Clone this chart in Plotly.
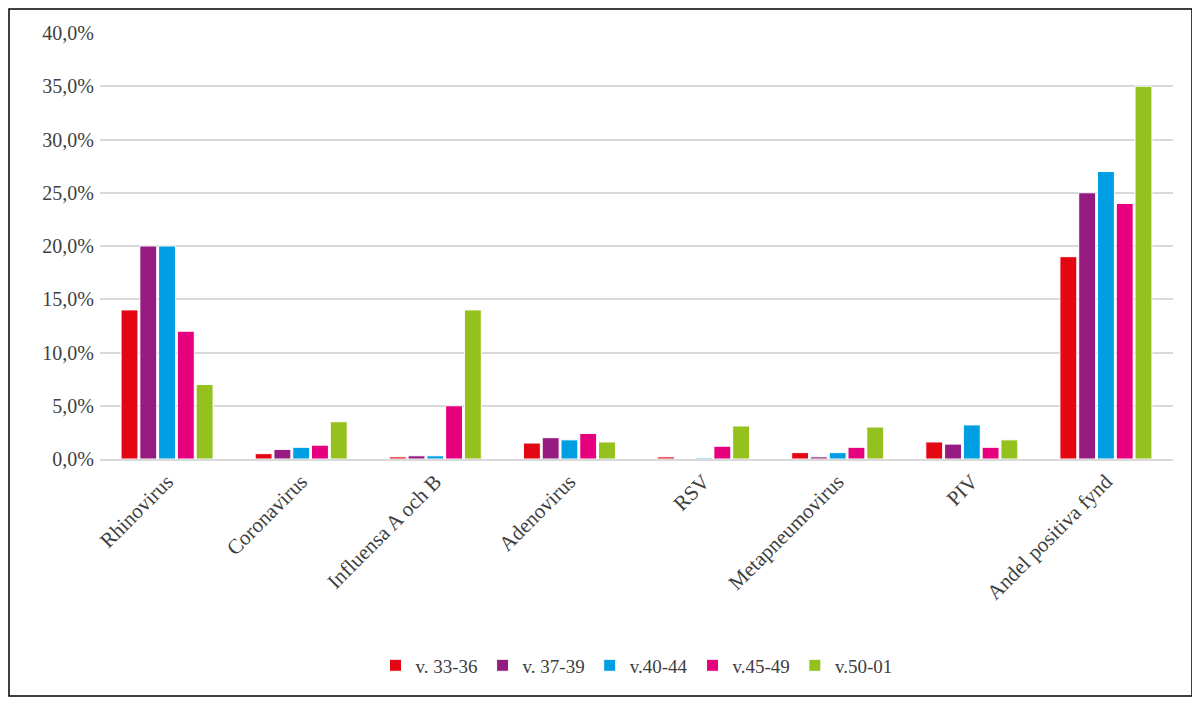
import plotly.graph_objects as go

categories = ["Rhinovirus", "Coronavirus", "Influensa A och B", "Adenovirus", "RSV",
              "Metapneumovirus", "PIV", "Andel positiva fynd"]
series_names = ["v. 33-36", "v. 37-39", "v.40-44", "v.45-49", "v.50-01"]
v33_36 = [0.14, 0.005, 0.002, 0.015, 0.002, 0.006, 0.016, 0.19]
v37_39 = [0.20, 0.009, 0.003, 0.020, 0.0, 0.002, 0.014, 0.25]
v40_44 = [0.20, 0.011, 0.003, 0.018, 0.001, 0.006, 0.032, 0.27]
v45_49 = [0.12, 0.013, 0.05, 0.024, 0.012, 0.011, 0.011, 0.24]
v50_01 = [0.07, 0.035, 0.14, 0.016, 0.031, 0.030, 0.018, 0.35]
colors = ["#E30613", "#951B81", "#009FE3", "#E6007E", "#95C11F"]

fig = go.Figure()
for name, vals, c in zip(series_names, [v33_36, v37_39, v40_44, v45_49, v50_01], colors):
    fig.add_bar(x=categories, y=vals, name=name, marker=dict(color=c, line=dict(color="white", width=1)))

L, R, T, B = 92, 35, 25, 250
PW, PH = 1200 - L - R, 701 - T - B

fig.update_layout(
    width=1200, height=701, barmode="group", bargap=0.3, bargroupgap=0.1,
    paper_bgcolor="white", plot_bgcolor="white",
    font=dict(family="Liberation Serif", size=20, color="#404040"),
    margin=dict(l=L, r=R, t=T, b=B),
    legend=dict(orientation="h", x=0.5, xanchor="center", y=-0.44, yanchor="top",
                font=dict(size=19), itemwidth=30, bgcolor="rgba(0,0,0,0)"),
    xaxis=dict(tickangle=-45, showline=True, linecolor="#D9D9D9", linewidth=2, ticks="",
               tickfont=dict(size=21)),
    yaxis=dict(range=[0, 0.4], dtick=0.05, tickformat=".1%",
               gridcolor="#D9D9D9", gridwidth=1.5, zeroline=False, ticksuffix=" "),
    separators=",.",
    shapes=[dict(type="rect", xref="paper", yref="paper",
                 x0=(1 - L) / PW, x1=(1184 - L) / PW,
                 y0=(T + PH - 688) / PH, y1=(T + PH - 1) / PH,
                 line=dict(color="black", width=1.5))],
)
fig.write_html("out.html")
